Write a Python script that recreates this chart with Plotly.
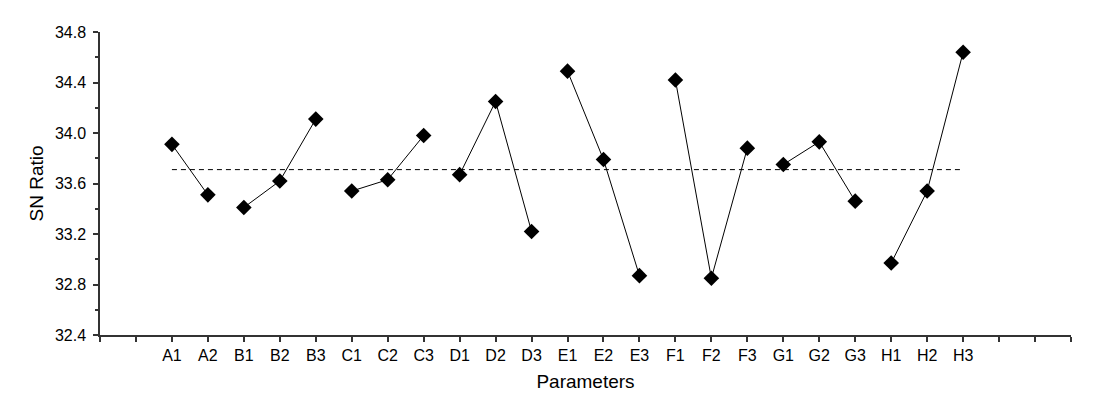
import plotly.graph_objects as go

categories = ["A1", "A2", "B1", "B2", "B3", "C1", "C2", "C3", "D1", "D2", "D3",
              "E1", "E2", "E3", "F1", "F2", "F3", "G1", "G2", "G3", "H1", "H2", "H3"]
sn_ratio = [33.91, 33.51, 33.41, 33.62, 34.11, 33.54, 33.63, 33.98, 33.67, 34.25, 33.22,
            34.49, 33.79, 32.87, 34.42, 32.85, 33.88, 33.75, 33.93, 33.46, 32.97, 33.54, 34.64]
mean_sn = 33.71
y_ticks = [32.4, 32.8, 33.2, 33.6, 34.0, 34.4, 34.8]

offset = 2  # two empty slots before the first category
xpos = [i + offset for i in range(len(categories))]
n_slots = len(categories) + 2 * offset

fig = go.Figure()

# one line per factor group
groups = {}
for c, x, v in zip(categories, xpos, sn_ratio):
    groups.setdefault(c[0], []).append((x, v))
for g, pts in groups.items():
    fig.add_trace(go.Scatter(
        x=[p[0] for p in pts], y=[p[1] for p in pts],
        mode="lines+markers",
        line=dict(color="black", width=1),
        marker=dict(symbol="diamond", size=12, color="black"),
        showlegend=False, hoverinfo="skip",
    ))

# mean dashed line
fig.add_trace(go.Scatter(
    x=[xpos[0], xpos[-1]], y=[mean_sn, mean_sn],
    mode="lines", line=dict(color="black", width=1, dash="5px,4px"),
    showlegend=False, hoverinfo="skip",
))

tickvals = list(range(n_slots + 1))
ticktext = [""] * offset + categories + [""] * (n_slots + 1 - offset - len(categories))

fig.update_layout(
    width=1102, height=398,
    margin=dict(l=92, r=39, t=24, b=71, autoexpand=False),
    paper_bgcolor="white", plot_bgcolor="white",
    font=dict(family="Liberation Sans, Arial, sans-serif", color="black", size=16),
    xaxis=dict(
        range=[0, n_slots], tickmode="array", tickvals=tickvals, ticktext=ticktext,
        showgrid=False, zeroline=False, showline=True, linecolor="#333", linewidth=1.5,
        ticks="outside", ticklen=5, tickcolor="#333", tickwidth=1.5,
        tickfont=dict(size=16), ticklabelstandoff=0,
        title=dict(text="Parameters", font=dict(size=19), standoff=12),
    ),
    yaxis=dict(
        range=[32.4, 34.8], tickmode="array", tickvals=y_ticks,
        ticktext=[f"{v:.1f}" for v in y_ticks],
        showgrid=False, zeroline=False, showline=True, linecolor="#333", linewidth=1.5,
        ticks="outside", ticklen=5, tickcolor="#333", tickwidth=1.5,
        tickfont=dict(size=16), ticklabelstandoff=4,
        minor=dict(dtick=0.2, tick0=32.4, ticks="outside", ticklen=3, tickcolor="#333", showgrid=False),
        title=dict(text="SN Ratio", font=dict(size=19), standoff=6),
    ),
)

fig.write_html("out.html")
